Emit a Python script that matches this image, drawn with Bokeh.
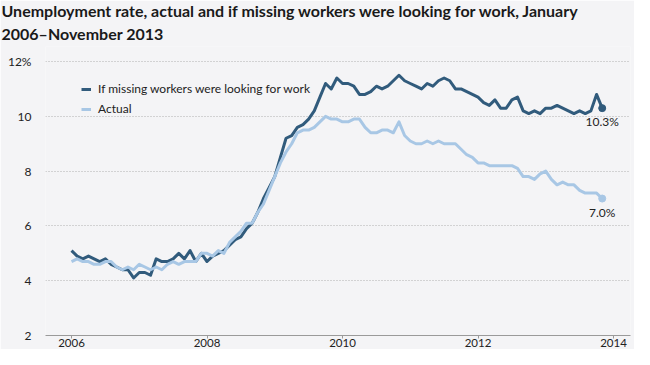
import pandas as pd
from bokeh.plotting import figure
from bokeh.models import ColumnDataSource, FixedTicker, Title, Legend, LegendItem, Range1d
from bokeh.embed import file_html
from bokeh.resources import INLINE

# ---------------- data ----------------
months = pd.date_range("2006-01-01", "2013-11-01", freq="MS")

actual = [
    4.7, 4.8, 4.7, 4.7, 4.6, 4.6, 4.7, 4.7, 4.5, 4.4, 4.5, 4.4,   # 2006
    4.6, 4.5, 4.4, 4.5, 4.4, 4.6, 4.7, 4.6, 4.7, 4.7, 4.7, 5.0,   # 2007
    5.0, 4.9, 5.1, 5.0, 5.4, 5.6, 5.8, 6.1, 6.1, 6.5, 6.8, 7.3,   # 2008
    7.8, 8.3, 8.7, 9.0, 9.4, 9.5, 9.5, 9.6, 9.8, 10.0, 9.9, 9.9,  # 2009
    9.8, 9.8, 9.9, 9.9, 9.6, 9.4, 9.4, 9.5, 9.5, 9.4, 9.8, 9.3,   # 2010
    9.1, 9.0, 9.0, 9.1, 9.0, 9.1, 9.0, 9.0, 9.0, 8.8, 8.6, 8.5,   # 2011
    8.3, 8.3, 8.2, 8.2, 8.2, 8.2, 8.2, 8.1, 7.8, 7.8, 7.7, 7.9,   # 2012
    8.0, 7.7, 7.5, 7.6, 7.5, 7.5, 7.3, 7.2, 7.2, 7.2, 7.0,        # 2013
]

missing = [
    5.1, 4.9, 4.8, 4.9, 4.8, 4.7, 4.8, 4.6, 4.5, 4.4, 4.4, 4.1,   # 2006
    4.3, 4.3, 4.2, 4.8, 4.7, 4.7, 4.8, 5.0, 4.8, 5.1, 4.7, 5.0,   # 2007
    4.7, 4.9, 5.0, 5.1, 5.3, 5.5, 5.6, 5.9, 6.1, 6.5, 7.0, 7.4,   # 2008
    7.8, 8.5, 9.2, 9.3, 9.6, 9.7, 9.9, 10.2, 10.7, 11.2, 11.0, 11.4,  # 2009
    11.2, 11.2, 11.1, 10.8, 10.8, 10.9, 11.1, 11.0, 11.1, 11.3, 11.5, 11.3,  # 2010
    11.2, 11.1, 11.0, 11.2, 11.1, 11.3, 11.4, 11.3, 11.0, 11.0, 10.9, 10.8,  # 2011
    10.7, 10.5, 10.4, 10.6, 10.3, 10.3, 10.6, 10.7, 10.2, 10.1, 10.2, 10.1,  # 2012
    10.3, 10.3, 10.4, 10.3, 10.2, 10.1, 10.2, 10.1, 10.2, 10.8, 10.3,        # 2013
]

series_names = ["If missing workers were looking for work", "Actual"]
year_ticks = [2006, 2008, 2010, 2012, 2014]
y_ticks = [2, 4, 6, 8, 10, 12]
title_line1 = "Unemployment rate, actual and if missing workers were looking for work, January"
title_line2 = "2006\u2013November 2013"

# ---------------- styling ----------------
BG = "#f4f4f6"
DARK = "#315b7c"
LIGHT = "#a8c7e5"
TXT = "#222222"
FONT = "Lato"
LEFT = 45

xs = [d.year + (d.month - 1) / 12 for d in months]
src = ColumnDataSource(dict(x=xs, actual=actual, missing=missing))

p = figure(width=634, height=349, output_backend="svg", toolbar_location=None,
           x_range=Range1d(2005.616, 2014.251), y_range=Range1d(2, 12.55),
           background_fill_color=BG, border_fill_color=BG,
           min_border_left=LEFT, min_border_right=4, min_border_top=44, min_border_bottom=8)
p.outline_line_color = None

r_miss = p.line("x", "missing", source=src, line_color=DARK, line_width=3, line_join="round")
r_act = p.line("x", "actual", source=src, line_color=LIGHT, line_width=3, line_join="round")

# end points and labels
end_x = [xs[-1], xs[-1]]
end_y = [missing[-1], actual[-1]]
end_txt = [f"{missing[-1]:.1f}%", f"{actual[-1]:.1f}%"]
end_src = ColumnDataSource(dict(x=end_x, y=end_y, t=end_txt, c=[DARK, LIGHT]))
p.scatter("x", "y", source=end_src, size=7, color="c")
p.text("x", "y", text="t", source=end_src, text_align="center", text_baseline="top",
       y_offset=6, text_font_size="12px", text_color=TXT, text_font={"value": FONT})

# axes
p.xaxis.ticker = FixedTicker(ticks=year_ticks)
p.xaxis.axis_line_color = "#9a9a9a"
p.xaxis.major_tick_line_color = "#9a9a9a"
p.xaxis.major_tick_out = 3
p.xaxis.major_tick_in = 0
p.xaxis.minor_tick_line_color = None
p.xaxis.major_label_standoff = 0
p.xaxis.major_label_text_font_size = "11.5px"
p.xaxis.major_label_text_color = TXT
p.xaxis.major_label_text_font = FONT

p.yaxis.ticker = FixedTicker(ticks=y_ticks)
p.yaxis.major_label_overrides = {12: "12%"}
p.yaxis.axis_line_color = None
p.yaxis.major_tick_line_color = None
p.yaxis.minor_tick_line_color = None
p.yaxis.major_label_standoff = 8
p.yaxis.major_label_text_font_size = "12px"
p.yaxis.major_label_text_color = TXT
p.yaxis.major_label_text_font = FONT

p.xgrid.grid_line_color = None
p.ygrid.grid_line_color = "#b0b0b0"
p.ygrid.grid_line_dash = "1 2"
p.ygrid.grid_line_width = 1

# legend
legend = Legend(items=[LegendItem(label=series_names[0], renderers=[r_miss]),
                       LegendItem(label=series_names[1], renderers=[r_act])],
                location=(36, 219), orientation="vertical",
                background_fill_alpha=0, border_line_color=None,
                padding=4, margin=0, spacing=5,
                glyph_width=10, glyph_height=14, label_height=14,
                label_standoff=7, label_text_font_size="12px",
                label_text_color=TXT, label_text_font=FONT)
p.add_layout(legend)

# titles
p.add_layout(Title(text=title_line2, text_font_size="16px", text_font_style="bold",
                   text_color="#1a1a1a", text_font=FONT, offset=-LEFT + 1, standoff=8), "above")
p.add_layout(Title(text=title_line1, text_font_size="16px", text_font_style="bold",
                   text_color="#1a1a1a", text_font=FONT, offset=-LEFT + 1, standoff=-4), "above")

open("out.html", "w").write(file_html(p, INLINE))
